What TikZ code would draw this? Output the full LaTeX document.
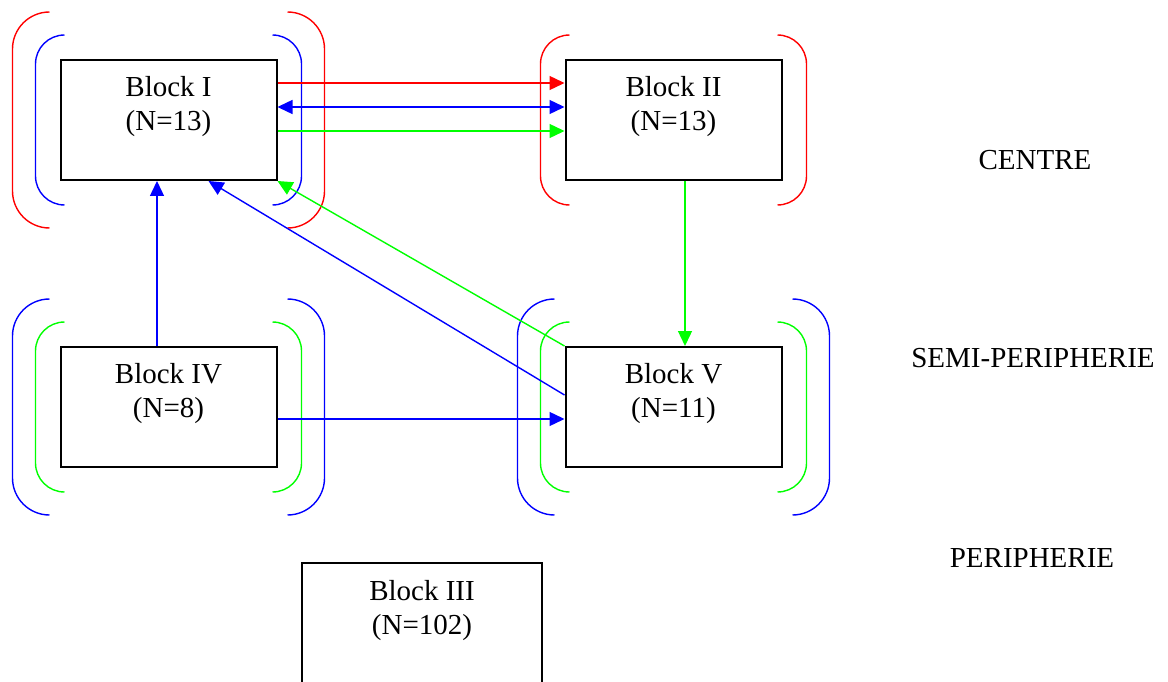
\documentclass[tikz,border=0pt]{standalone}
\usepackage{fontspec}
\setmainfont{Liberation Serif}
\usetikzlibrary{calc,arrows.meta}
\definecolor{lgreen}{RGB}{0,255,0}
\def\brackets[#1](#2)(#3:#4){%
	\draw[#1,rounded corners=#4pt] ($(#2.north west)+(-#3+#4,-#3)$) -- ($(#2.north west)+(-#3,-#3)$) -- ($(#2.south west)+(-#3,#3)$) -- ($(#2.south west)+(-#3+#4,#3)$);%
	\draw[#1,rounded corners=#4pt] ($(#2.north east)+(#3-#4,-#3)$) -- ($(#2.north east)+(#3,-#3)$) -- ($(#2.south east)+(#3,#3)$) -- ($(#2.south east)+(#3-#4,#3)$);}

\begin{document}
\begin{tikzpicture}[x=1pt,y=-1pt,line width=1.4pt,
		block/.style={draw=black,line width=2pt,minimum width=216pt,minimum height=120pt,inner sep=0pt,align=center,font=\fontsize{29}{34}\selectfont},
		zone/.style={font=\fontsize{29}{34}\selectfont},
		tip/.style={-{Triangle[length=15pt,width=14pt]}}]
		%%%%% START %%%%%
		\useasboundingbox (0,0) rectangle (1168,682);
		
		\node[block] (blockI) at (168.5,120) {Block I\\(N=13)\\\mbox{}};
		\node[block] (blockII) at (673.5,120) {Block II\\(N=13)\\\mbox{}};
		\node[block] (blockIV) at (168.5,407) {Block IV\\(N=8)\\\mbox{}};
		\node[block] (blockV) at (673.5,407) {Block V\\(N=11)\\\mbox{}};
		\node[block,minimum width=240pt,minimum height=122pt] (blockIII) at (422,624) {Block III\\(N=102)\\\mbox{}};
		
		\node[zone] (centre) at (1035,160) {CENTRE};
		\node[zone] (semi) at (1033,358) {SEMI-PERIPHERIE};
		\node[zone] (peri) at (1032,558) {PERIPHERIE};
		
		\brackets[red](blockI)(47:37);
		\brackets[blue](blockI)(24:29);
		\brackets[red](blockII)(24:29);
		\brackets[blue](blockIV)(47:37);
		\brackets[lgreen](blockIV)(24:29);
		\brackets[blue](blockV)(47:37);
		\brackets[lgreen](blockV)(24:29);
		
		\draw[red,tip] ([yshift=-24pt]blockI.north east) -- ([yshift=-24pt]blockII.north west);
		\draw[blue,{Triangle[length=15pt,width=14pt]}-{Triangle[length=15pt,width=14pt]}] ([yshift=-48pt]blockI.north east) -- ([yshift=-48pt]blockII.north west);
		\draw[lgreen,tip] ([yshift=-72pt]blockI.north east) -- ([yshift=-72pt]blockII.north west);
		
		\draw[lgreen,tip] ([xshift=11.5pt]blockII.south) -- ([xshift=11.5pt]blockV.north);
		\draw[lgreen,tip] (blockV.north west) -- (blockI.south east);
		\draw[blue,tip] ([yshift=12pt]blockV.west) -- ([xshift=40pt]blockI.south);
		\draw[blue,tip] ([xshift=-11.5pt]blockIV.north) -- ([xshift=-11.5pt]blockI.south);
		\draw[blue,tip] ([yshift=-12pt]blockIV.east) -- ([yshift=-12pt]blockV.west);
		%%%%% END %%%%%
	\end{tikzpicture}
\end{document}
